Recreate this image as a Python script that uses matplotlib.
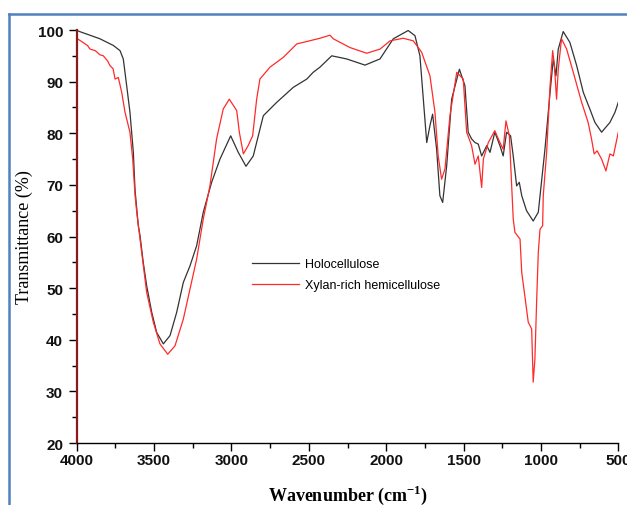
import matplotlib
matplotlib.use('Agg')
import matplotlib.pyplot as plt
from matplotlib.lines import Line2D
from matplotlib.ticker import MultipleLocator

plt.rcParams['mathtext.fontset'] = 'custom'
plt.rcParams['mathtext.rm'] = 'Liberation Serif:bold'

# FTIR spectra (wavenumber in cm-1, transmittance in %)
holo_wn = [4000, 3850, 3763, 3720, 3699, 3677, 3656, 3634, 3623, 3602,
           3591, 3570, 3548, 3515, 3483, 3440, 3397, 3354, 3311, 3268,
           3225, 3182, 3128, 3074, 3005, 2956, 2906, 2859, 2794, 2707,
           2600, 2513, 2472, 2428, 2352, 2256, 2137, 2040, 1954, 1858,
           1814, 1782, 1760, 1738, 1717, 1700, 1674, 1653, 1635, 1609,
           1577, 1527, 1491, 1470, 1448, 1426, 1405, 1383, 1350, 1329,
           1298, 1265, 1244, 1222, 1196, 1179, 1157, 1140, 1124, 1093,
           1050, 1017, 974, 941, 920, 903, 888, 856, 813, 769,
           726, 684, 651, 608, 554, 521, 500]
holo_t = [99.9, 98.3, 97.0, 96.0, 94.4, 89.2, 84.1, 76.3, 69.0, 62.1,
          60.2, 55.0, 50.5, 45.3, 41.4, 39.2, 40.8, 45.3, 51.1, 54.3,
          58.2, 64.7, 70.5, 75.0, 79.5, 76.3, 73.6, 75.6, 83.4, 86.0,
          88.9, 90.5, 91.8, 92.8, 95.0, 94.4, 93.2, 94.4, 98.3, 99.9,
          98.9, 95.0, 86.6, 78.2, 81.5, 83.7, 76.9, 67.9, 66.6, 73.7,
          86.6, 92.4, 89.2, 80.2, 78.9, 78.2, 77.9, 75.6, 77.6, 76.3,
          80.2, 77.6, 75.6, 80.2, 79.5, 75.6, 69.8, 70.5, 67.9, 65.0,
          63.0, 64.7, 76.9, 87.9, 94.4, 91.1, 96.3, 99.7, 97.6, 93.1,
          87.9, 84.7, 82.1, 80.2, 82.1, 84.1, 86.0]

xylan_wn = [4000, 3960, 3930, 3914, 3880, 3850, 3828, 3800, 3785, 3765,
            3752, 3731, 3709, 3688, 3656, 3638, 3623, 3612, 3580, 3548,
            3505, 3462, 3412, 3365, 3311, 3268, 3225, 3182, 3139, 3096,
            3053, 3014, 2966, 2949, 2923, 2892, 2863, 2837, 2816, 2751,
            2665, 2578, 2428, 2363, 2342, 2234, 2126, 2040, 1975, 1890,
            1825, 1771, 1717, 1685, 1664, 1642, 1620, 1588, 1544, 1502,
            1480, 1448, 1426, 1405, 1383, 1372, 1340, 1298, 1265, 1244,
            1226, 1204, 1179, 1168, 1135, 1124, 1104, 1082, 1060, 1050,
            1039, 1028, 1017, 1006, 989, 985, 963, 941, 924, 913,
            899, 888, 867, 834, 791, 737, 695, 673, 656, 637,
            608, 580, 554, 532, 500]
xylan_t = [98.4, 97.6, 97.0, 96.3, 96.0, 95.2, 95.0, 94.0, 93.1, 92.5,
           90.5, 90.8, 87.9, 84.1, 80.2, 75.0, 68.0, 64.7, 56.9, 49.2,
           43.4, 39.2, 37.2, 38.8, 44.0, 49.8, 55.6, 63.4, 69.8, 78.9,
           84.7, 86.6, 84.4, 80.2, 76.0, 77.6, 79.5, 86.6, 90.5, 92.8,
           94.7, 97.3, 98.4, 99.0, 98.3, 96.6, 95.5, 96.3, 97.9, 98.4,
           97.9, 95.7, 91.1, 84.1, 75.6, 71.1, 73.1, 83.4, 91.8, 90.5,
           80.2, 77.6, 74.0, 75.6, 69.5, 75.0, 78.2, 80.5, 78.2, 76.9,
           82.4, 79.5, 63.4, 60.8, 59.5, 53.0, 48.5, 43.4, 42.1, 31.8,
           36.2, 47.2, 56.9, 61.4, 62.1, 67.9, 76.3, 89.2, 96.0, 93.1,
           86.6, 92.4, 98.3, 96.3, 91.8, 86.0, 82.1, 78.9, 76.0, 76.6,
           75.0, 72.7, 76.0, 75.6, 80.2]

x_ticks = [4000, 3500, 3000, 2500, 2000, 1500, 1000, 500]
y_ticks = [20, 30, 40, 50, 60, 70, 80, 90, 100]

W, H = 627, 506
fig = plt.figure(figsize=(W / 100, H / 100), dpi=100)
ax = fig.add_axes([76.7 / W, 1 - 444 / H, (618.3 - 76.7) / W, (444 - 31) / H])

ax.plot(holo_wn, holo_t, color='#333333', lw=0.9, label='Holocellulose')
ax.plot(xylan_wn, xylan_t, color='#ff2a2a', lw=0.9, label='Xylan-rich hemicellulose')

ax.set_xlim(4000, 500)
ax.set_ylim(20, 100)
ax.set_xticks(x_ticks)
ax.set_yticks(y_ticks)
ax.xaxis.set_minor_locator(MultipleLocator(250))
ax.yaxis.set_minor_locator(MultipleLocator(5))

# only left and bottom axes; the left one shows dark red in the original
ax.spines['top'].set_visible(False)
ax.spines['right'].set_visible(False)
ax.spines['left'].set_color('#8b1a1a')
ax.spines['left'].set_linewidth(1.6)
ax.spines['bottom'].set_linewidth(1.0)

ax.tick_params(which='major', direction='out', length=5.8, width=1.0, pad=1.5,
               labelsize=11)
ax.tick_params(which='minor', direction='out', length=3.6, width=1.0)
ax.tick_params(axis='y', which='major', pad=4)
for lab in ax.get_xticklabels() + ax.get_yticklabels():
    lab.set_fontfamily('Liberation Sans')
    lab.set_fontweight('bold')
    lab.set_color('#111111')

ax.set_ylabel('Transmittance (%)', family='Liberation Serif', fontsize=13,
              labelpad=3.5)
ax.set_xlabel('Wavenumber (cm$^{-1}$)', family='Liberation Serif', fontsize=13,
              fontweight='bold', labelpad=11)

ax.legend(loc='upper left', bbox_to_anchor=(0.3126, 0.4625), frameon=False,
          borderpad=0, handlelength=3.7, handletextpad=0.5, labelspacing=0.7,
          prop={'family': 'Liberation Sans', 'size': 9})

# blue frame around the figure, as in the source image
fig.add_artist(Line2D([9 / W, 9 / W], [0, 1 - 15 / H], transform=fig.transFigure,
                      color='#4f81bd', lw=1.8))
fig.add_artist(Line2D([9 / W, 1], [1 - 15 / H, 1 - 15 / H], transform=fig.transFigure,
                      color='#4f81bd', lw=1.8))

fig.savefig('out.png', dpi=100)
